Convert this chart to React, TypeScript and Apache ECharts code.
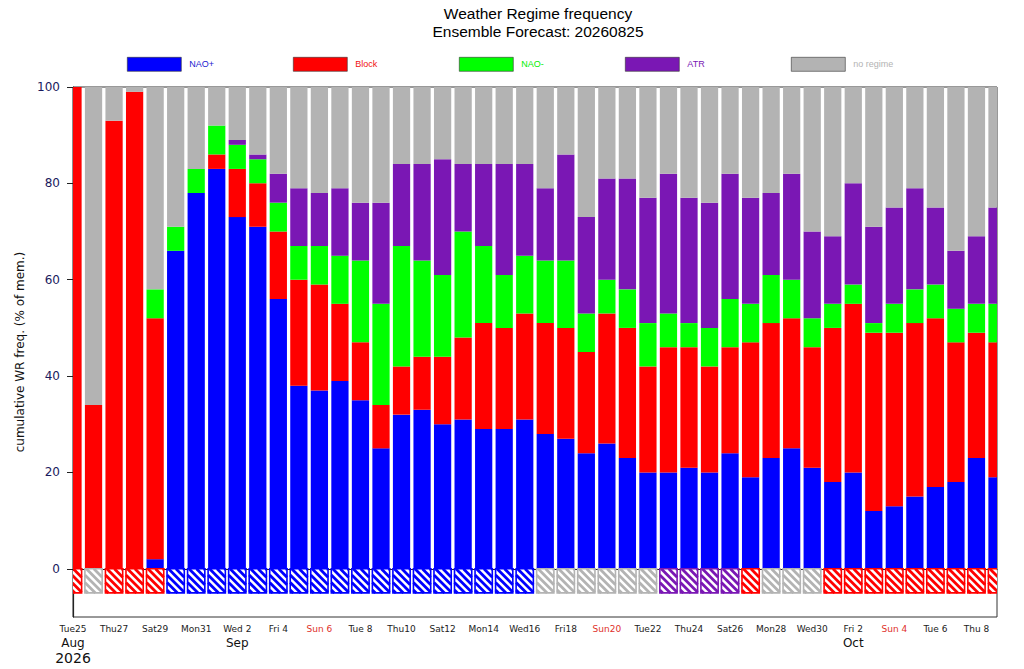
import React, { useEffect, useRef } from 'react';
import * as echarts from 'echarts';

const dates = [
  '2026-08-25','2026-08-26','2026-08-27','2026-08-28','2026-08-29','2026-08-30','2026-08-31',
  '2026-09-01','2026-09-02','2026-09-03','2026-09-04','2026-09-05','2026-09-06','2026-09-07',
  '2026-09-08','2026-09-09','2026-09-10','2026-09-11','2026-09-12','2026-09-13','2026-09-14',
  '2026-09-15','2026-09-16','2026-09-17','2026-09-18','2026-09-19','2026-09-20','2026-09-21',
  '2026-09-22','2026-09-23','2026-09-24','2026-09-25','2026-09-26','2026-09-27','2026-09-28',
  '2026-09-29','2026-09-30','2026-10-01','2026-10-02','2026-10-03','2026-10-04','2026-10-05',
  '2026-10-06','2026-10-07','2026-10-08','2026-10-09',
];

const dayLabels = [
  'Tue25','Wed26','Thu27','Fri28','Sat29','Sun30','Mon31',
  'Tue 1','Wed 2','Thu 3','Fri 4','Sat 5','Sun 6','Mon 7',
  'Tue 8','Wed 9','Thu10','Fri11','Sat12','Sun13','Mon14',
  'Tue15','Wed16','Thu17','Fri18','Sat19','Sun20','Mon21',
  'Tue22','Wed23','Thu24','Fri25','Sat26','Sun27','Mon28',
  'Tue29','Wed30','Thu 1','Fri 2','Sat 3','Sun 4','Mon 5',
  'Tue 6','Wed 7','Thu 8','Fri 9',
];

const monthIdx = [0, 8, 38];
const monthNames = ['Aug', 'Sep', 'Oct'];
const yearText = '2026';
const yTicks = [0, 20, 40, 60, 80, 100];

const naoPlus = [0,0,0,0,2,66,78,83,73,71,56,38,37,39,35,25,32,33,30,31,29,29,31,28,27,24,26,23,20,20,21,20,24,19,23,25,21,18,20,12,13,15,17,18,23,19];
const block = [100,34,93,99,50,0,0,3,10,9,14,22,22,16,12,9,10,11,14,17,22,21,22,23,23,21,27,27,22,26,25,22,22,28,28,27,25,32,35,37,36,36,35,29,26,28];
const naoMinus = [0,0,0,0,6,5,5,6,5,5,6,7,8,10,17,21,25,20,17,22,16,11,12,13,14,8,7,8,9,7,5,8,10,8,10,8,6,5,4,2,6,7,7,7,6,8];
const atr = [0,0,0,0,0,0,0,0,1,1,6,12,11,14,12,21,17,20,24,14,17,23,19,15,22,20,21,23,26,29,26,26,26,22,17,22,18,14,21,20,20,21,16,12,14,20];
const noRegime = [0,66,7,1,42,29,17,8,11,14,18,21,22,21,24,24,16,16,15,16,16,16,16,21,14,27,19,19,23,18,23,24,18,23,22,18,30,31,20,29,25,21,25,34,31,25];

const dominant = [
  'Block','no regime','Block','Block','Block',
  'NAO+','NAO+','NAO+','NAO+','NAO+','NAO+','NAO+','NAO+','NAO+','NAO+','NAO+','NAO+','NAO+','NAO+','NAO+','NAO+','NAO+','NAO+',
  'no regime','no regime','no regime','no regime','no regime','no regime',
  'ATR','ATR','ATR','ATR',
  'Block',
  'no regime','no regime','no regime',
  'Block','Block','Block','Block','Block','Block','Block','Block','Block',
];
const hatchDepth = 5;

const regimeNames = ['NAO+', 'Block', 'NAO-', 'ATR', 'no regime'];
const regimeColors: Record<string, string> = {
  'NAO+': '#0000ff',
  'Block': '#ff0000',
  'NAO-': '#00ff00',
  'ATR': '#7a17b4',
  'no regime': '#b3b3b3',
};
const legendTextColors: Record<string, string> = {
  'NAO+': '#1a1ad0',
  'Block': '#f01010',
  'NAO-': '#00ee00',
  'ATR': '#7a17b4',
  'no regime': '#b3b3b3',
};
const legendLeft = [127, 293, 459, 625, 791];
const barFrac = 0.84;

export default function App() {
  const ref = useRef<HTMLDivElement>(null);
  useEffect(() => {
    if (!ref.current) return;
    const chart = echarts.init(ref.current, undefined, { renderer: 'svg' });
    const seriesData = [naoPlus, block, naoMinus, atr, noRegime];

    // stacked [idx, low, high] rows built from the per-regime arrays
    const running = dates.map(() => 0);
    const series: any[] = regimeNames.map((name, si) => {
      const rows = seriesData[si].map((v, i) => {
        const lo = running[i];
        running[i] = lo + v;
        return [i, lo, lo + v];
      });
      const color = regimeColors[name];
      return {
        name,
        type: 'custom',
        clip: true,
        itemStyle: { color },
        encode: { x: 0, y: 2 },
        data: rows,
        renderItem: (params: any, api: any) => {
          const idx = api.value(0);
          const lo = api.value(1);
          const hi = api.value(2);
          if (!(hi > lo)) return null;
          const a = api.coord([idx, lo]);
          const b = api.coord([idx, hi]);
          const bw = api.size([1, 0])[0] * barFrac;
          return {
            type: 'rect',
            shape: { x: a[0] - bw / 2, y: b[1], width: bw, height: a[1] - b[1] },
            style: { fill: color },
          };
        },
      };
    });

    series.push({
      name: 'dominant regime',
      type: 'custom',
      clip: true,
      encode: { x: 0, y: 2 },
      data: dominant.map((d, i) => [i, 0, -hatchDepth, regimeNames.indexOf(d)]),
      renderItem: (params: any, api: any) => {
        const idx = api.value(0);
        const color = regimeColors[regimeNames[api.value(3)]];
        const top = api.coord([idx, api.value(1)]);
        const bot = api.coord([idx, api.value(2)]);
        const bw = api.size([1, 0])[0] * barFrac;
        const x0 = top[0] - bw / 2;
        const x1 = top[0] + bw / 2;
        const y0 = top[1];
        const y1 = bot[1];
        const children: any[] = [
          { type: 'rect', shape: { x: x0, y: y0, width: bw, height: y1 - y0 }, style: { fill: '#ffffff' } },
        ];
        const step = 7.5;
        for (let k = x0 - y1 + 3; k < x1 - y0; k += step) {
          const xa = Math.max(x0, y0 + k);
          const xb = Math.min(x1, y1 + k);
          if (xb > xa) {
            children.push({
              type: 'line',
              shape: { x1: xa, y1: xa - k, x2: xb, y2: xb - k },
              style: { stroke: color, lineWidth: 2.8 },
            });
          }
        }
        children.push({
          type: 'rect',
          shape: { x: x0, y: y0, width: bw, height: y1 - y0 },
          style: { fill: 'none', stroke: color, lineWidth: 1.6 },
        });
        return { type: 'group', children };
      },
    });

    const option: any = {
      animation: false,
      title: {
        text: 'Weather Regime frequency\nEnsemble Forecast: 20260825',
        left: 538,
        top: 4.5,
        padding: 0,
        textAlign: 'center',
        textStyle: {
          fontFamily: 'Liberation Sans',
          fontSize: 15.5,
          fontWeight: 'normal',
          color: '#000',
          lineHeight: 18,
        },
      },
      legend: regimeNames.map((name, i) => ({
        data: [{ name, itemStyle: { color: regimeColors[name] }, textStyle: { color: legendTextColors[name] } }],
        left: legendLeft[i],
        top: 57,
        padding: 0,
        itemWidth: 54,
        itemHeight: 14,
        icon: 'rect',
        selectedMode: false,
        itemStyle: { borderColor: '#333', borderWidth: 0.6 },
        textStyle: { fontFamily: 'Liberation Sans', fontSize: 9, padding: [0, 0, 0, 3] },
      })),
      grid: {
        left: 73,
        right: 27,
        top: 87,
        bottom: 52,
        show: true,
        borderColor: '#333',
        borderWidth: 1,
        containLabel: false,
      },
      xAxis: {
        type: 'category',
        data: dates,
        boundaryGap: false,
        axisLine: { show: true, lineStyle: { color: '#222', width: 1.2 } },
        axisTick: {
          show: true,
          length: 5,
          interval: (idx: number) => idx % 2 === 0,
          lineStyle: { color: '#222' },
        },
        axisLabel: {
          interval: (idx: number) => idx % 2 === 0,
          margin: 5,
          formatter: (_v: string, idx: number) => {
            const lbl = dayLabels[idx];
            const isSun = lbl.startsWith('Sun');
            let s = `{${isSun ? 'ds' : 'd'}|${lbl}}`;
            const mi = monthIdx.indexOf(idx);
            if (mi >= 0) s += `\n{m|${monthNames[mi]}}`;
            if (idx === 0) s += `\n{y|${yearText}}`;
            return s;
          },
          rich: {
            d: { fontFamily: 'DejaVu Sans', fontSize: 9, color: '#222', lineHeight: 13 },
            ds: { fontFamily: 'DejaVu Sans', fontSize: 9, color: '#e0302a', lineHeight: 13 },
            m: { fontFamily: 'DejaVu Sans', fontSize: 12, color: '#111', lineHeight: 15 },
            y: { fontFamily: 'DejaVu Sans', fontSize: 14, color: '#111', lineHeight: 16 },
          },
        },
        splitLine: { show: false },
      },
      yAxis: {
        type: 'value',
        min: -10,
        max: 100,
        name: 'cumulative WR freq. (% of mem.)',
        nameLocation: 'middle',
        nameGap: 38,
        nameTextStyle: { fontFamily: 'DejaVu Sans', fontSize: 12, color: '#111' },
        axisLine: { show: true, lineStyle: { color: '#222', width: 1.2 } },
        axisTick: {
          show: true,
          length: 6,
          customValues: yTicks,
          lineStyle: { color: '#222' },
        },
        axisLabel: {
          customValues: yTicks,
          margin: 13,
          fontFamily: 'DejaVu Sans',
          fontSize: 12,
          color: '#1a1a5e',
        },
        splitLine: { show: false },
      },
      series,
    };
    chart.setOption(option);
    return () => chart.dispose();
  }, []);
  return (
    <div
      ref={ref}
      style={{ position: 'fixed', left: 0, top: 0, width: 1024, height: 669, background: '#fff' }}
    />
  );
}
